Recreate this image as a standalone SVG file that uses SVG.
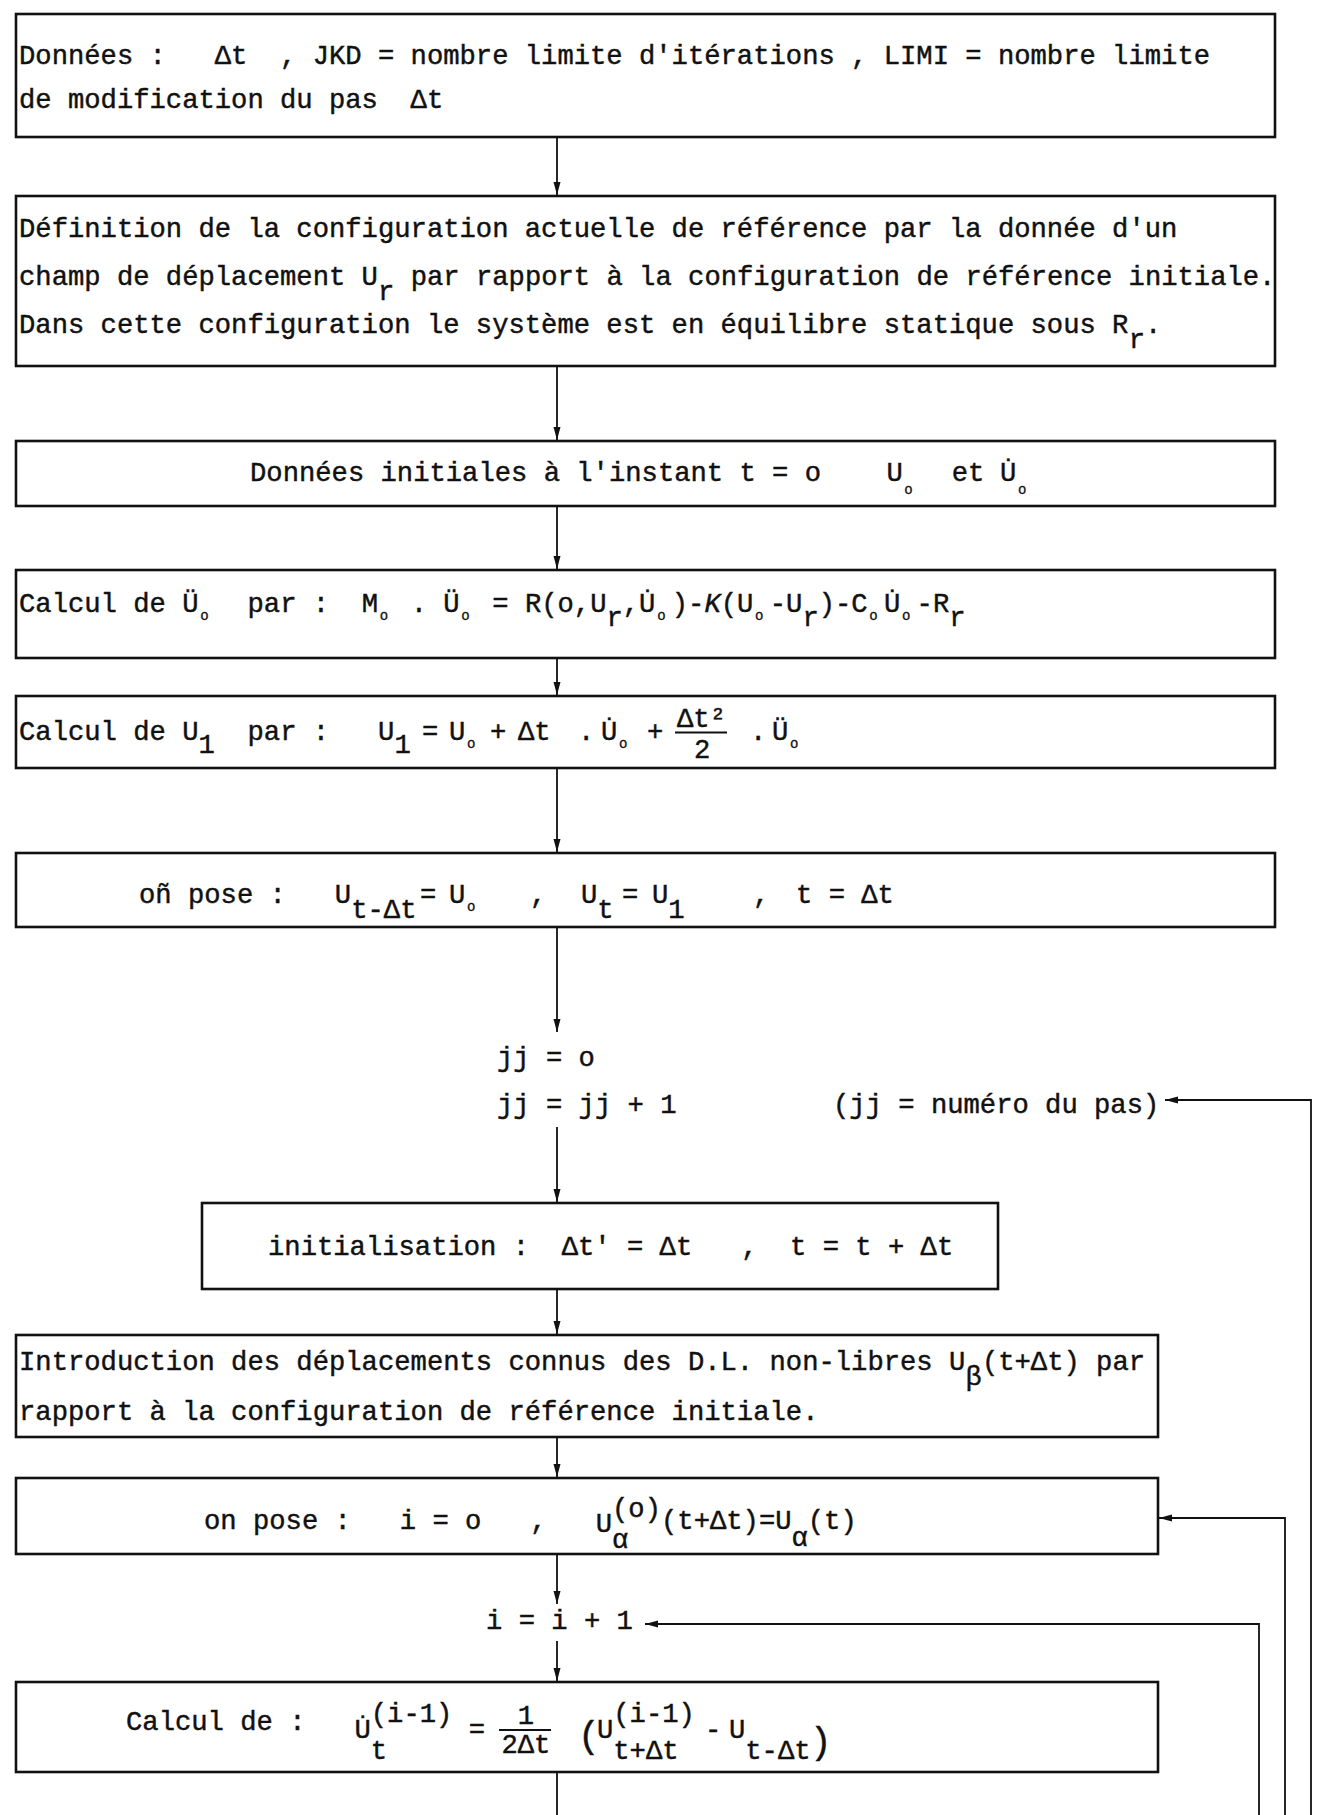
<svg xmlns="http://www.w3.org/2000/svg" width="1321" height="1815" viewBox="0 0 1321 1815">
<style>
.box{fill:#fff;stroke:#111;stroke-width:2.6}
text{font-family:"Liberation Mono","DejaVu Sans Mono",monospace;font-size:27.2px;fill:#111;stroke:#111;stroke-width:0.45;white-space:pre}
.o{font-size:14px;stroke-width:0.3}
.big{font-size:36px}
.k{font-style:italic}
.c{fill:none;stroke:#111;stroke-width:1.8}
.fl{stroke:#111;stroke-width:2}
</style>
<defs>
<marker id="ah" markerUnits="userSpaceOnUse" markerWidth="14" markerHeight="8" refX="13" refY="3.5" orient="auto"><path d="M0,0 L13,3.5 L0,7 z" fill="#111"/></marker>
</defs>
<rect width="1321" height="1815" fill="#fff"/>
<g id="connectors">
<line class="c" x1="557" y1="137" x2="557" y2="195" marker-end="url(#ah)"/>
<line class="c" x1="557" y1="366" x2="557" y2="440" marker-end="url(#ah)"/>
<line class="c" x1="557" y1="506" x2="557" y2="569" marker-end="url(#ah)"/>
<line class="c" x1="557" y1="658" x2="557" y2="695" marker-end="url(#ah)"/>
<line class="c" x1="557" y1="768" x2="557" y2="852" marker-end="url(#ah)"/>
<line class="c" x1="557" y1="927" x2="557" y2="1032" marker-end="url(#ah)"/>
<line class="c" x1="557" y1="1127" x2="557" y2="1202" marker-end="url(#ah)"/>
<line class="c" x1="557" y1="1289" x2="557" y2="1334" marker-end="url(#ah)"/>
<line class="c" x1="557" y1="1437" x2="557" y2="1477" marker-end="url(#ah)"/>
<line class="c" x1="557" y1="1554" x2="557" y2="1604" marker-end="url(#ah)"/>
<line class="c" x1="557" y1="1641" x2="557" y2="1681" marker-end="url(#ah)"/>
<line class="c" x1="557" y1="1772" x2="557" y2="1815"/>
<path class="c" d="M1311,1815 V1100 H1165" marker-end="url(#ah)"/>
<path class="c" d="M1285,1815 V1518 H1159" marker-end="url(#ah)"/>
<path class="c" d="M1259,1815 V1624 H645" marker-end="url(#ah)"/>
</g>
<g id="n1">
<rect class="box" x="16" y="14" width="1259" height="123"/>
<text xml:space="preserve" x="19" y="64">Données :   Δt  , JKD = nombre limite d'itérations , LIMI = nombre limite</text>
<text xml:space="preserve" x="19" y="108">de modification du pas  Δt</text>
</g>
<g id="n2">
<rect class="box" x="16" y="196" width="1259" height="170"/>
<text xml:space="preserve" x="19" y="237">Définition de la configuration actuelle de référence par la donnée d'un</text>
<text xml:space="preserve"><tspan x="19" y="285">champ de déplacement U</tspan><tspan x="378" y="300">r</tspan><tspan x="394.4" y="285"> par rapport à la configuration de référence initiale.</tspan></text>
<text xml:space="preserve"><tspan x="19" y="333">Dans cette configuration le système est en équilibre statique sous R</tspan><tspan x="1128.8" y="348">r</tspan><tspan x="1145.1" y="333">.</tspan></text>
</g>
<g id="n3">
<rect class="box" x="16" y="441" width="1259" height="65"/>
<text xml:space="preserve" x="250" y="481">Données initiales à l'instant t = o</text>
<text x="886.5" y="481">U</text><text class="o" x="904.3" y="494">o</text>
<text x="951.8" y="481">et</text>
<text x="1000" y="481">U̇</text><text class="o" x="1018" y="494">o</text>
</g>
<g id="n4">
<rect class="box" x="16" y="570" width="1259" height="88"/>
<text xml:space="preserve" x="19" y="612">Calcul de Ü</text><text class="o" x="200.2" y="620">o</text>
<text xml:space="preserve" x="247.5" y="612">par :  M</text><text class="o" x="379.7" y="620">o</text>
<text x="410.7" y="612">.</text><text x="443.3" y="612">Ü</text><text class="o" x="461.3" y="620">o</text>
<text x="492.3" y="612">=</text><text x="524.9" y="612">R(o,U</text><text x="606.5" y="626">r</text>
<text x="622.8" y="612">,U̇</text><text class="o" x="657.2" y="620">o</text>
<text x="671.8" y="612">)-</text><text class="k" x="704.4" y="612">K</text><text x="720.8" y="612">(U</text><text class="o" x="755.1" y="620">o</text>
<text x="769.7" y="612">-U</text><text x="802.4" y="626">r</text>
<text x="818.7" y="612">)-C</text><text class="o" x="869.3" y="620">o</text>
<text x="884" y="612">U̇</text><text class="o" x="902" y="620">o</text>
<text x="916.6" y="612">-R</text><text x="949.2" y="626">r</text>
</g>
<g id="n5">
<rect class="box" x="16" y="696" width="1259" height="72"/>
<text xml:space="preserve" x="19" y="740">Calcul de U</text><text x="198.5" y="753">1</text>
<text xml:space="preserve" x="247.5" y="740">par :   U</text><text x="394.4" y="753">1</text>
<text x="422" y="740">=</text><text x="449" y="740">U</text><text class="o" x="467" y="748">o</text>
<text x="490" y="740">+</text><text x="518" y="740">Δt</text><text x="578" y="740">.</text>
<text x="601" y="740">U̇</text><text class="o" x="619" y="748">o</text>
<text x="647" y="740">+</text>
<text x="677" y="727">Δt²</text><line class="fl" x1="675" y1="732.5" x2="727" y2="732.5"/><text x="694" y="758">2</text>
<text x="750" y="740">.</text><text x="772" y="740">Ü</text><text class="o" x="790" y="748">o</text>
</g>
<g id="n6">
<rect class="box" x="16" y="853" width="1259" height="74"/>
<text xml:space="preserve" x="139" y="903">oñ pose :   U</text><text x="351.2" y="918">t-Δt</text>
<text x="420" y="903">=</text><text x="449" y="903">U</text><text class="o" x="467" y="911">o</text>
<text x="530" y="903">,</text><text x="581" y="903">U</text><text x="597.3" y="918">t</text>
<text x="622" y="903">=</text><text x="652" y="903">U</text><text x="668.3" y="918">1</text>
<text x="753" y="903">,</text><text xml:space="preserve" x="796" y="903">t = Δt</text>
</g>
<g id="n_jj">
<text xml:space="preserve" x="497" y="1066">jj = o</text>
<text xml:space="preserve" x="497" y="1113">jj = jj + 1</text>
<text xml:space="preserve" x="833" y="1113">(jj = numéro du pas)</text>
</g>
<g id="n7">
<rect class="box" x="202" y="1203" width="796" height="86"/>
<text xml:space="preserve" x="268" y="1255">initialisation :  Δt' = Δt   ,  t = t + Δt</text>
</g>
<g id="n8">
<rect class="box" x="16" y="1335" width="1142" height="102"/>
<text xml:space="preserve" x="19" y="1370">Introduction des déplacements connus des D.L. non-libres U</text><text x="965.6" y="1385">β</text><text xml:space="preserve" x="981.9" y="1370">(t+Δt) par</text>
<text xml:space="preserve" x="19" y="1420">rapport à la configuration de référence initiale.</text>
</g>
<g id="n9">
<rect class="box" x="16" y="1478" width="1142" height="76"/>
<text xml:space="preserve" x="204" y="1529">on pose :   i = o   ,</text>
<text x="595.7" y="1532">U</text><text x="612" y="1517">(o)</text><text x="612" y="1548">α</text>
<text x="661" y="1529">(t+Δt)=U</text><text x="791.5" y="1546">α</text><text x="807.8" y="1529">(t)</text>
</g>
<g id="n_i">
<text xml:space="preserve" x="486" y="1629">i = i + 1</text>
</g>
<g id="n10">
<rect class="box" x="16" y="1682" width="1142" height="90"/>
<text xml:space="preserve" x="126" y="1730">Calcul de :</text>
<text x="354.5" y="1738">U̇</text><text x="370.8" y="1722">(i-1)</text><text x="370.8" y="1759">t</text>
<text x="468.7" y="1738">=</text>
<text x="517.7" y="1724">1</text><line class="fl" x1="499" y1="1730" x2="551" y2="1730"/><text x="501.4" y="1753">2Δt</text>
<text class="big" x="578" y="1747">(</text>
<text x="597" y="1738">U</text><text x="613.3" y="1722">(i-1)</text><text x="613.3" y="1759">t+Δt</text>
<text x="705" y="1738">-</text>
<text x="729" y="1738">U</text><text x="745.3" y="1759">t-Δt</text>
<text class="big" x="810" y="1753">)</text>
</g>
</svg>
